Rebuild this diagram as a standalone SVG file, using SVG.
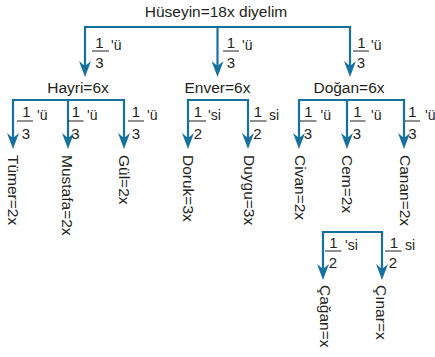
<svg xmlns="http://www.w3.org/2000/svg" width="435" height="357" viewBox="0 0 435 357">
<style>
text{font-family:"Liberation Sans",Arial,sans-serif;fill:#231f20}
.n{font-size:15.5px;text-anchor:middle}
.l{font-size:15.5px}
.d{font-size:15px;text-anchor:middle}
.s{font-size:14px}
.c{stroke:#17719f;stroke-width:2.2;fill:none}
.a{stroke:#17719f;stroke-width:2.2;fill:none;marker-end:url(#ah)}
.b{stroke:#231f20;stroke-width:1}
</style>
<defs>
<marker id="ah" markerUnits="userSpaceOnUse" markerWidth="16" markerHeight="12" viewBox="0 0 16 12" refX="8" refY="6" orient="auto">
<path d="M0,0 L16,6 L0,12 L5,6 Z" fill="#17719f"/>
</marker>
</defs>
<g id="connectors">
<path class="c" d="M85,27 H350"/>
<path class="a" d="M85,26 V69"/>
<path class="a" d="M217.5,27 V69"/>
<path class="a" d="M350,26 V69"/>
<path class="c" d="M13,100 H124"/>
<path class="a" d="M13,99 V141"/>
<path class="a" d="M68,100 V141"/>
<path class="a" d="M124,99 V141"/>
<path class="c" d="M188,100 H248"/>
<path class="a" d="M188,99 V141"/>
<path class="a" d="M248,99 V141"/>
<path class="c" d="M299,100 H404"/>
<path class="a" d="M299,99 V141"/>
<path class="a" d="M347,100 V141"/>
<path class="a" d="M404,99 V141"/>
<path class="c" d="M323,232 H382"/>
<path class="a" d="M323,231 V272"/>
<path class="a" d="M382,231 V272"/>
</g>
<g id="huseyin"><text class="n" x="216" y="17">Hüseyin=18x diyelim</text></g>
<g id="hayri"><text class="n" x="78" y="93">Hayri=6x</text></g>
<g id="enver"><text class="n" x="217.5" y="93">Enver=6x</text></g>
<g id="dogan"><text class="n" x="349" y="93">Doğan=6x</text></g>
<g id="frac-hayri"><text class="d" x="99.5" y="48">1</text><line class="b" x1="92" y1="51" x2="109" y2="51"/><text class="d" x="99.5" y="68">3</text><text class="s" x="111" y="50">'ü</text></g>
<g id="frac-enver"><text class="d" x="231" y="48">1</text><line class="b" x1="223" y1="51" x2="239" y2="51"/><text class="d" x="231" y="68">3</text><text class="s" x="242" y="50">'ü</text></g>
<g id="frac-dogan"><text class="d" x="361.5" y="48">1</text><line class="b" x1="353" y1="51" x2="369" y2="51"/><text class="d" x="361" y="68">3</text><text class="s" x="371" y="50">'ü</text></g>
<g id="frac-tumer"><text class="d" x="26.5" y="117">1</text><line class="b" x1="17" y1="121" x2="33" y2="121"/><text class="d" x="26" y="139">3</text><text class="s" x="37" y="120">'ü</text></g>
<g id="frac-mustafa"><text class="d" x="76" y="117">1</text><line class="b" x1="68" y1="121" x2="83.5" y2="121"/><text class="d" x="75.5" y="139">3</text><text class="s" x="87" y="120">'ü</text></g>
<g id="frac-gul"><text class="d" x="136" y="117">1</text><line class="b" x1="128" y1="121" x2="144" y2="121"/><text class="d" x="136" y="139">3</text><text class="s" x="147" y="120">'ü</text></g>
<g id="frac-doruk"><text class="d" x="198" y="117">1</text><line class="b" x1="189" y1="121" x2="206" y2="121"/><text class="d" x="198" y="139">2</text><text class="s" x="208" y="120">'si</text></g>
<g id="frac-duygu"><text class="d" x="258" y="117">1</text><line class="b" x1="250" y1="121" x2="266.5" y2="121"/><text class="d" x="257.5" y="139">2</text><text class="s" x="269" y="120">si</text></g>
<g id="frac-civan"><text class="d" x="308.5" y="117">1</text><line class="b" x1="300" y1="121" x2="316.5" y2="121"/><text class="d" x="308" y="139">3</text><text class="s" x="320.5" y="120">'ü</text></g>
<g id="frac-cem"><text class="d" x="357.5" y="117">1</text><line class="b" x1="350" y1="121" x2="365.5" y2="121"/><text class="d" x="357" y="139">3</text><text class="s" x="371" y="120">'ü</text></g>
<g id="frac-canan"><text class="d" x="412.5" y="117">1</text><line class="b" x1="405" y1="121" x2="420" y2="121"/><text class="d" x="412.5" y="139">3</text><text class="s" x="425" y="120">'ü</text></g>
<g id="frac-cagan"><text class="d" x="333.5" y="248">1</text><line class="b" x1="325" y1="251" x2="341.5" y2="251"/><text class="d" x="333" y="268">2</text><text class="s" x="345" y="250">'si</text></g>
<g id="frac-cinar"><text class="d" x="394" y="248">1</text><line class="b" x1="385" y1="251" x2="401.5" y2="251"/><text class="d" x="393" y="268">2</text><text class="s" x="405" y="250">si</text></g>
<g id="tumer"><text class="l" transform="translate(8.3,155) rotate(90)">Tümer=2x</text></g>
<g id="mustafa"><text class="l" transform="translate(61.5,155) rotate(90)">Mustafa=2x</text></g>
<g id="gul"><text class="l" transform="translate(119,155) rotate(90)">Gül=2x</text></g>
<g id="doruk"><text class="l" transform="translate(183,155) rotate(90)">Doruk=3x</text></g>
<g id="duygu"><text class="l" transform="translate(243.5,155) rotate(90)">Duygu=3x</text></g>
<g id="civan"><text class="l" transform="translate(295,155) rotate(90)">Civan=2x</text></g>
<g id="cem"><text class="l" transform="translate(342,155) rotate(90)">Cem=2x</text></g>
<g id="canan"><text class="l" transform="translate(399.5,155) rotate(90)">Canan=2x</text></g>
<g id="cagan"><text class="l" transform="translate(320,285) rotate(90)">Çağan=x</text></g>
<g id="cinar"><text class="l" transform="translate(376,285) rotate(90)">Çınar=x</text></g>
</svg>
